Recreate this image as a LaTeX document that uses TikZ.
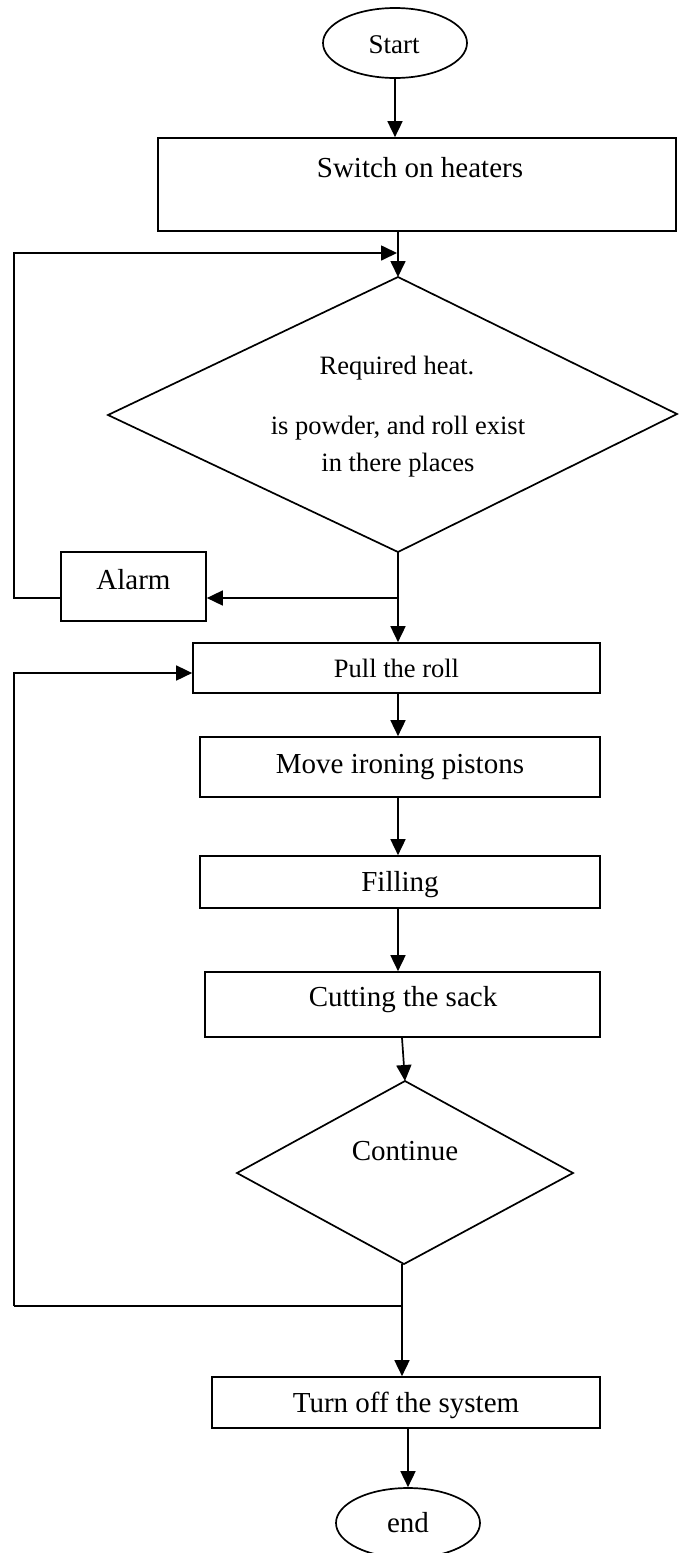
\documentclass[tikz,border=0pt]{standalone}
\usepackage{fontspec}
\setmainfont{Liberation Serif}
\usetikzlibrary{arrows.meta,shapes.geometric}

\tikzset{
  wire/.style={line width=1.7pt},
  thinwire/.style={line width=1.2pt},
  flow/.style={wire, -{Triangle[length=16pt,width=15pt]}},
  procbox/.style={draw, line width=1.7pt, inner sep=0pt, rectangle},
  terminal/.style={draw, line width=1.7pt, inner sep=0pt, ellipse,
                   minimum width=144pt, minimum height=70pt},
  bigtext/.style={font=\fontsize{29}{35}\selectfont, inner sep=0pt},
  smalltext/.style={font=\fontsize{26.5}{37}\selectfont, inner sep=0pt, align=center},
}

\begin{document}
\begin{tikzpicture}[x=1pt, y=-1pt]
  \fill[white] (0,0) rectangle (678,1553);
  \useasboundingbox (0,0) rectangle (678,1553);

  % terminals
  \node[terminal] (start) at (395,43) {};
  \node[font=\fontsize{27}{32}\selectfont, inner sep=0pt] (starttxt) at (394,45) {Start};

  % first process box, label sits in its upper half
  \node[procbox, minimum width=518pt, minimum height=93pt] (heat) at (417,184.5) {};
  \node[bigtext] (heattxt) at (420,168) {Switch on heaters};

  % first decision
  \coordinate (dAtop) at (398,277);
  \coordinate (dAbot) at (398,552);
  \coordinate (dAleft) at (108,415);
  \coordinate (dAright) at (677,414);
  \draw[wire, line join=miter] (dAtop) -- (dAright) -- (dAbot) -- (dAleft) -- cycle;
  \node[smalltext] (qA1) at (397,368) {Required heat.};
  \node[smalltext] (qA2) at (398,446.5) {is powder, and roll exist\\in there places};

  % alarm box
  \node[procbox, minimum width=145pt, minimum height=69pt] (alarm) at (133.5,586.5) {};
  \node[bigtext] (alarmtxt) at (133.5,580) {Alarm};

  % main column of steps
  \node[procbox, minimum width=407pt, minimum height=50pt] (pull) at (396.5,668)
        {\fontsize{26.5}{32}\selectfont Pull the roll};
  \node[procbox, minimum width=400pt, minimum height=60pt] (move) at (400,767)
        {\fontsize{29}{35}\selectfont Move ironing pistons};
  \node[procbox, minimum width=400pt, minimum height=52pt] (fill) at (400,882) {};
  \node[bigtext] (filltxt) at (400,885) {Filling};
  \node[procbox, minimum width=395pt, minimum height=65pt] (cut) at (402.5,1004.5) {};
  \node[bigtext] (cuttxt) at (403,1000) {Cutting the sack};

  % second decision
  \coordinate (dBtop) at (405,1081);
  \coordinate (dBbot) at (404,1264);
  \coordinate (dBleft) at (237,1173);
  \coordinate (dBright) at (573,1173);
  \draw[wire, line join=miter] (dBtop) -- (dBright) -- (dBbot) -- (dBleft) -- cycle;
  \node[bigtext] (qB) at (405,1151) {Continue};

  \node[procbox, minimum width=388pt, minimum height=51pt] (off) at (406,1402.5) {};
  \node[bigtext] (offtxt) at (406,1405) {Turn off the system};

  \node[terminal] (stop) at (408,1523) {};
  \node[bigtext] (stoptxt) at (408,1523) {end};

  % helper points for the connectors
  \coordinate (colA) at (398,0);
  \coordinate (colB) at (402,0);
  \coordinate (jAlarm) at (398,598);
  \coordinate (loopA1) at (14,598);
  \coordinate (loopA2) at (14,253);
  \coordinate (loopA3) at (397,253);
  \coordinate (jCont) at (402,1306);
  \coordinate (loopB1) at (14,1306);
  \coordinate (loopB2) at (14,673);
  \coordinate (colC) at (408,0);

  % connectors
  \draw[flow] (start) -- (start |- heat.north);
  \draw[flow] (heat.south -| colA) -- (dAtop);
  \draw[flow] (alarm.west |- jAlarm) -- (loopA1) -- (loopA2) -- (loopA3);
  \draw[flow] (dAbot) -- (pull.north -| colA);
  \draw[flow] (jAlarm) -- (alarm.east |- jAlarm);
  \draw[flow] (pull.south -| colA) -- (move.north -| colA);
  \draw[flow] (move.south -| colA) -- (fill.north -| colA);
  \draw[flow] (fill.south -| colA) -- (cut.north -| colA);
  \draw[flow] (cut.south -| colB) -- (dBtop);
  \draw[flow] (dBbot -| colB) -- (off.north -| colB);
  \draw[thinwire] (jCont) -- (loopB1);
  \draw[flow] (loopB1) -- (loopB2) -- (pull.west |- loopB2);
  \draw[flow] (off.south -| colC) -- (stop);
\end{tikzpicture}
\end{document}
